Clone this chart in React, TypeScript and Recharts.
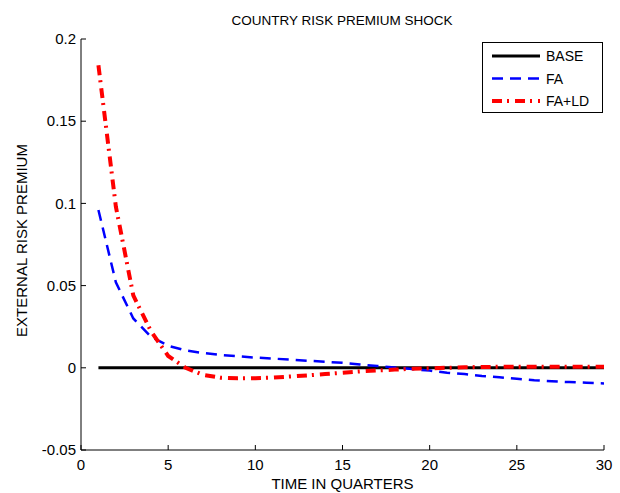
import { Legend, Line, LineChart, XAxis, YAxis } from "recharts";

// Quarter index and the three impulse responses.
const QUARTERS = [
  1, 2, 3, 4, 5, 6, 7, 8, 9, 10, 11, 12, 13, 14, 15, 16, 17, 18, 19, 20, 21, 22, 23, 24, 25,
  26, 27, 28, 29, 30,
];
const BASE = [
  0, 0, 0, 0, 0, 0, 0, 0, 0, 0, 0, 0, 0, 0, 0, 0, 0, 0, 0, 0, 0, 0, 0, 0, 0, 0, 0, 0, 0, 0,
];
const FA = [
  0.096, 0.052, 0.03, 0.019, 0.0134, 0.0106, 0.009, 0.0078, 0.007, 0.0062, 0.0056, 0.005,
  0.0043, 0.0037, 0.003, 0.002, 0.0011, 0.0002, -0.0008, -0.0017, -0.003, -0.0038, -0.005,
  -0.0058, -0.0067, -0.0076, -0.0082, -0.0087, -0.0091, -0.0095,
];
const FA_LD = [
  0.184, 0.098, 0.044, 0.0225, 0.0072, 0.0, -0.0043, -0.006, -0.0064, -0.0063, -0.006,
  -0.0053, -0.0046, -0.0038, -0.003, -0.0022, -0.0016, -0.0011, -0.0006, -0.0003, 0, 0.0003,
  0.0005, 0.0006, 0.0006, 0.0006, 0.0006, 0.0006, 0.0006, 0.0006,
];

const X_TICKS = [0, 5, 10, 15, 20, 25, 30];
const Y_TICKS = [-0.05, 0, 0.05, 0.1, 0.15, 0.2];

const SERIES = [
  { key: "base", name: "BASE", color: "#000000", width: 3, dash: undefined },
  { key: "fa", name: "FA", color: "#0000ff", width: 2.5, dash: "11 7" },
  { key: "fald", name: "FA+LD", color: "#ff0000", width: 4, dash: "10 5 2 6" },
];

const FONT = "'Liberation Sans', Arial, Helvetica, sans-serif";
const LABEL_SIZE = 15;
const TICK_LEN = 5;

const data = QUARTERS.map((q, i) => ({ q, base: BASE[i], fa: FA[i], fald: FA_LD[i] }));

// MATLAB-style inward ticks: tickSize 0 puts (x, y) on the axis line itself.
function BottomTick(props: any) {
  const { x, y, payload } = props;
  return (
    <g>
      <line x1={x} x2={x} y1={y} y2={y - TICK_LEN} stroke="#000" />
      <text
        x={x}
        y={y + 20}
        textAnchor="middle"
        fontSize={LABEL_SIZE}
        fontFamily={FONT}
        fill="#000"
      >
        {payload.value}
      </text>
    </g>
  );
}

function TopTick(props: any) {
  const { x, y } = props;
  return <line x1={x} x2={x} y1={y} y2={y + TICK_LEN} stroke="#000" />;
}

function LeftTick(props: any) {
  const { x, y, payload } = props;
  return (
    <g>
      <line x1={x} x2={x + TICK_LEN} y1={y} y2={y} stroke="#000" />
      <text
        x={x - 5}
        y={y}
        dy="0.35em"
        textAnchor="end"
        fontSize={LABEL_SIZE}
        fontFamily={FONT}
        fill="#000"
      >
        {payload.value === 0 ? "0" : String(payload.value)}
      </text>
    </g>
  );
}

function RightTick(props: any) {
  const { x, y } = props;
  return <line x1={x} x2={x - TICK_LEN} y1={y} y2={y} stroke="#000" />;
}

function LegendBox() {
  return (
    <div
      style={{
        width: 121,
        height: 71,
        border: "1px solid #000",
        background: "#fff",
        boxSizing: "border-box",
      }}
    >
      <svg width={119} height={69}>
        {SERIES.map((s, i) => (
          <g key={s.key}>
            <line
              x1={9}
              x2={57}
              y1={13 + i * 22.5}
              y2={13 + i * 22.5}
              stroke={s.color}
              strokeWidth={s.width}
              strokeDasharray={s.dash}
            />
            <text x={63} y={13 + i * 22.5} dy="0.36em" fontSize={14} fontFamily={FONT}>
              {s.name}
            </text>
          </g>
        ))}
      </svg>
    </div>
  );
}

export default function App() {
  return (
    <div style={{ position: "absolute", left: 0, top: 0, width: 620, height: 493 }}>
      <LineChart
        width={620}
        height={493}
        data={data}
        margin={{ top: 39, right: 16, bottom: 0, left: 0 }}
      >
        <text
          x={342}
          y={25}
          textAnchor="middle"
          fontSize={13.5}
          fontFamily={FONT}
          fill="#000"
        >
          COUNTRY RISK PREMIUM SHOCK
        </text>
        <XAxis
          dataKey="q"
          type="number"
          domain={[0, 30]}
          ticks={X_TICKS}
          height={43}
          tickSize={0}
          tickMargin={0}
          tickLine={false}
          tick={BottomTick}
          axisLine={{ stroke: "#000" }}
          label={({ viewBox }: any) => (
            <text
              x={viewBox.x + viewBox.width / 2}
              y={viewBox.y + 39}
              textAnchor="middle"
              fontSize={LABEL_SIZE}
              fontFamily={FONT}
              fill="#000"
            >
              TIME IN QUARTERS
            </text>
          )}
        />
        <XAxis
          xAxisId="top"
          orientation="top"
          type="number"
          domain={[0, 30]}
          ticks={X_TICKS}
          height={0}
          tickSize={0}
          tickMargin={0}
          tickLine={false}
          tick={TopTick}
          axisLine={{ stroke: "#000" }}
        />
        <YAxis
          type="number"
          domain={[-0.05, 0.2]}
          ticks={Y_TICKS}
          width={81}
          tickSize={0}
          tickMargin={0}
          tickLine={false}
          tick={LeftTick}
          axisLine={{ stroke: "#000" }}
          label={({ viewBox }: any) => {
            const cx = 27;
            const cy = viewBox.y + viewBox.height / 2 - 4;
            return (
              <text
                x={cx}
                y={cy}
                textAnchor="middle"
                transform={`rotate(-90 ${cx} ${cy})`}
                fontSize={LABEL_SIZE}
                fontFamily={FONT}
                fill="#000"
              >
                EXTERNAL RISK PREMIUM
              </text>
            );
          }}
        />
        <YAxis
          yAxisId="right"
          orientation="right"
          type="number"
          domain={[-0.05, 0.2]}
          ticks={Y_TICKS}
          width={0}
          tickSize={0}
          tickMargin={0}
          tickLine={false}
          tick={RightTick}
          axisLine={{ stroke: "#000" }}
        />
        <Legend
          layout="vertical"
          align="center"
          verticalAlign="middle"
          content={() => <LegendBox />}
          wrapperStyle={{ left: 482, top: 42, width: 121, height: 71 }}
        />
        {SERIES.map((s) => (
          <Line
            key={s.key}
            dataKey={s.key}
            name={s.name}
            type="linear"
            stroke={s.color}
            strokeWidth={s.width}
            strokeDasharray={s.dash}
            dot={false}
            activeDot={false}
            isAnimationActive={false}
          />
        ))}
      </LineChart>
    </div>
  );
}
